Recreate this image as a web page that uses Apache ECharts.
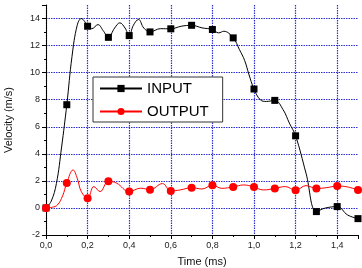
<!DOCTYPE html>
<html>
<head>
<meta charset="utf-8">
<script src="https://cdn.jsdelivr.net/npm/echarts@6/dist/echarts.min.js"></script>
<style>html,body{margin:0;padding:0;background:#fff}#c{width:362px;height:268px}</style>
</head>
<body>
<div id="c"></div>
<script>
// Marker values (every 0.1 ms)
var markerTimes = [0, 0.1, 0.2, 0.3, 0.4, 0.5, 0.6, 0.7, 0.8, 0.9, 1.0, 1.1, 1.2, 1.3, 1.4, 1.5];
var inputMarkers = [0, 7.63, 13.43, 12.61, 12.74, 13.01, 13.24, 13.5, 13.19, 12.57, 8.79, 7.95, 5.33, -0.27, 0.1, -0.79];
var outputMarkers = [0, 1.85, 0.72, 1.97, 1.21, 1.35, 1.26, 1.5, 1.68, 1.55, 1.55, 1.44, 1.31, 1.44, 1.62, 1.32];

// Curve traces
var inputCurveT = [0, 0.025, 0.05, 0.075, 0.1, 0.125, 0.15, 0.17, 0.185, 0.2, 0.22, 0.25, 0.275, 0.3, 0.33, 0.355, 0.38, 0.4, 0.42, 0.445, 0.47, 0.5, 0.55, 0.6, 0.65, 0.7, 0.75, 0.8, 0.83, 0.855, 0.9, 0.93, 0.955, 0.975, 1.0, 1.03, 1.06, 1.1, 1.14, 1.17, 1.2, 1.25, 1.3, 1.34, 1.4, 1.45, 1.5];
var inputCurveV = [0, 0.5, 1.8, 4.5, 7.63, 11.2, 13.5, 14.0, 13.8, 13.43, 13.25, 13.55, 13.1, 12.61, 13.3, 13.68, 13.3, 12.74, 13.5, 13.93, 13.3, 13.01, 13.25, 13.24, 13.43, 13.5, 13.31, 13.19, 12.94, 13.06, 12.57, 11.7, 10.9, 9.9, 8.79, 8.0, 7.87, 7.95, 7.26, 6.27, 5.33, 2.57, -0.27, -0.02, 0.1, -0.52, -0.79];
var outputCurveT = [0, 0.03, 0.055, 0.08, 0.1, 0.13, 0.15, 0.17, 0.2, 0.23, 0.26, 0.3, 0.34, 0.4, 0.455, 0.5, 0.56, 0.6, 0.645, 0.7, 0.75, 0.8, 0.845, 0.9, 0.95, 1.0, 1.045, 1.1, 1.15, 1.2, 1.25, 1.3, 1.35, 1.4, 1.45, 1.5];
var outputCurveV = [0, 0.05, 0.22, 0.9, 1.85, 2.81, 2.2, 1.2, 0.72, 1.58, 1.21, 1.97, 1.83, 1.21, 1.46, 1.35, 1.8, 1.26, 1.33, 1.5, 1.4, 1.68, 1.45, 1.55, 1.7, 1.55, 1.33, 1.44, 1.58, 1.31, 1.65, 1.44, 1.5, 1.62, 1.55, 1.32];

function zip(a, b) { return a.map(function (v, i) { return [v, b[i]]; }); }

var FONT = 'Liberation Sans, Arial, sans-serif';

var chart = echarts.init(document.getElementById('c'), null, { renderer: 'canvas' });
chart.setOption({
  animation: false,
  backgroundColor: '#fff',
  grid: { show: false, left: 46, right: 4, top: 5, bottom: 33, containLabel: false, outerBoundsMode: 'none' },
  legend: {
    left: 93, top: 77,
    orient: 'vertical',
    data: ['INPUT', 'OUTPUT'],
    itemWidth: 42, itemHeight: 9, itemGap: 8,
    padding: [4, 14, 3, 6],
    backgroundColor: '#fff',
    borderColor: '#333', borderWidth: 1, borderRadius: 0,
    textStyle: { fontFamily: FONT, fontSize: 15, lineHeight: 15, color: '#000' }
  },
  xAxis: {
    type: 'value', min: 0, max: 1.5, interval: 0.2,
    name: 'Time (ms)', nameLocation: 'middle', nameGap: 21,
    nameTextStyle: { fontFamily: FONT, fontSize: 11, color: '#111' },
    axisLine: { onZero: false, lineStyle: { color: '#000', width: 1 } },
    axisTick: { show: true, inside: false, length: 4, lineStyle: { color: '#000' } },
    minorTick: { show: true, splitNumber: 2, length: 2, lineStyle: { color: '#000' } },
    axisLabel: { showMaxLabel: false, fontFamily: FONT, fontSize: 9, color: '#222', margin: 6,
      formatter: function (v) { return v.toFixed(1).replace('.', ','); } },
    splitLine: { show: true, showMaxLine: false, lineStyle: { color: '#3030d0', type: [1.5, 1], width: 1.2 } }
  },
  yAxis: {
    type: 'value', min: -2, max: 15, interval: 2,
    name: 'Velocity (m/s)', nameLocation: 'middle', nameGap: 32,
    nameTextStyle: { fontFamily: FONT, fontSize: 11, color: '#111' },
    axisLine: { show: true, lineStyle: { color: '#000', width: 1 } },
    axisTick: { show: true, inside: false, length: 4, lineStyle: { color: '#000' } },
    minorTick: { show: true, splitNumber: 2, length: 2, lineStyle: { color: '#000' } },
    axisLabel: { showMaxLabel: false, fontFamily: FONT, fontSize: 9, color: '#222', margin: 6 },
    splitLine: { show: true, showMaxLine: false, lineStyle: { color: '#3030d0', type: [1.5, 1], width: 1.2 } }
  },
  series: [
    { name: 'INPUT', type: 'line', data: zip(inputCurveT, inputCurveV), smooth: 0.4,
      symbol: 'rect', showSymbol: false, color: '#000', lineStyle: { color: '#000', width: 1 }, z: 2 },
    { name: 'OUTPUT', type: 'line', data: zip(outputCurveT, outputCurveV), smooth: 0.4,
      symbol: 'circle', showSymbol: false, color: '#ff0000', lineStyle: { color: '#ff0000', width: 1 }, z: 2 },
    { name: 'INPUT', type: 'line', data: zip(markerTimes, inputMarkers),
      symbol: 'rect', symbolSize: 7, showSymbol: true, lineStyle: { width: 0, opacity: 0 },
      itemStyle: { color: '#000' }, z: 3 },
    { name: 'OUTPUT', type: 'line', data: zip(markerTimes, outputMarkers),
      symbol: 'circle', symbolSize: 8, showSymbol: true, lineStyle: { width: 0, opacity: 0 },
      itemStyle: { color: '#ff0000' }, z: 3 }
  ]
});
</script>
</body>
</html>
